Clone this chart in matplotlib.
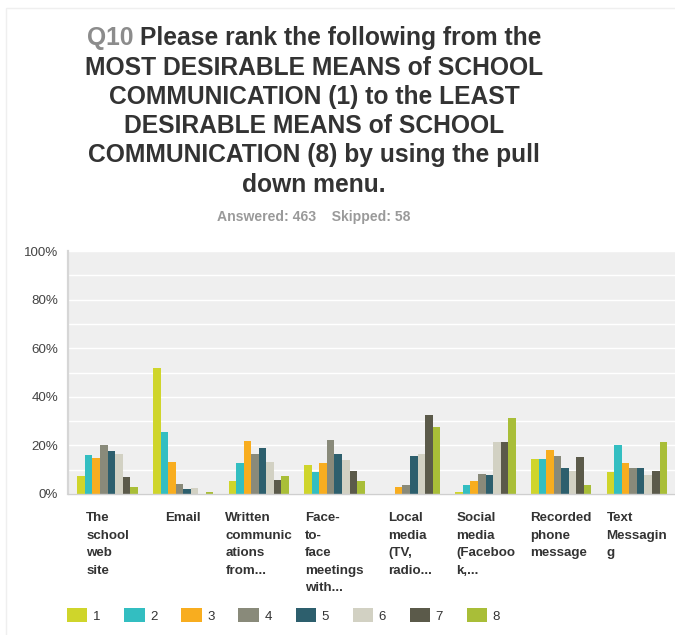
import matplotlib
matplotlib.use("Agg")
import matplotlib.pyplot as plt
import numpy as np
from matplotlib.patches import Rectangle

plt.rcParams["font.family"] = ["Liberation Sans", "DejaVu Sans"]

# Survey categories (x axis) and the share of respondents giving each rank
categories = [
    "The\nschool\nweb\nsite",
    "Email",
    "Written\ncommunic\nations\nfrom...",
    "Face-\nto-\nface\nmeetings\nwith...",
    "Local\nmedia\n(TV,\nradio...",
    "Social\nmedia\n(Faceboo\nk,...",
    "Recorded\nphone\nmessage",
    "Text\nMessagin\ng",
]
rank_labels = ["1", "2", "3", "4", "5", "6", "7", "8"]

school_web_site = [7.4, 16.0, 14.9, 20.1, 17.6, 16.5, 6.9, 3.0]
email = [51.9, 25.6, 13.2, 4.1, 1.9, 2.5, 0.0, 0.8]
written_comms = [5.2, 12.7, 21.7, 16.5, 19.1, 13.2, 5.8, 7.3]
face_to_face = [12.1, 8.9, 12.7, 22.3, 16.4, 13.8, 9.5, 5.2]
local_media = [0.0, 0.0, 3.0, 3.6, 15.8, 16.4, 32.5, 27.6]
social_media = [0.8, 3.6, 5.2, 8.4, 7.8, 21.3, 21.3, 31.4]
recorded_phone = [14.3, 14.3, 18.0, 15.8, 10.6, 9.5, 15.4, 3.6]
text_messaging = [8.9, 20.1, 12.7, 10.6, 10.6, 7.8, 9.5, 21.3]

y_ticks = [0, 20, 40, 60, 80, 100]
y_tick_labels = ["0%", "20%", "40%", "60%", "80%", "100%"]

rank_colors = ["#cfd52b", "#33bec1", "#f8ad1f", "#898a7a",
               "#2d5f6d", "#d2d1c3", "#5b5a4a", "#a9be38"]

values = np.array([school_web_site, email, written_comms, face_to_face,
                   local_media, social_media, recorded_phone, text_messaging])

W, H = 675, 635
fig = plt.figure(figsize=(W / 100, H / 100), dpi=100)
fig.patch.set_facecolor("white")

# faint outer frame
fig.patches.append(Rectangle((6 / W, -0.05), 1.2, 1 - 8 / H + 0.05,
                             transform=fig.transFigure, fill=False,
                             edgecolor="#efefef", linewidth=1.0))

# plot area
left, right, top, bottom = 68, 675, 251, 494
ax = fig.add_axes([left / W, 1 - bottom / H, (right - left) / W, (bottom - top) / H])
ax.set_facecolor("#efefef")

x = np.arange(len(categories))
bar_w = 0.1
for j, (lab, col) in enumerate(zip(rank_labels, rank_colors)):
    ax.bar(x + (j - 3.5) * bar_w, values[:, j], width=bar_w, color=col,
           label=lab, zorder=3, linewidth=0)

ax.set_xlim(-0.524, 7.505)
ax.set_ylim(0, 100)
ax.set_yticks(y_ticks)
ax.set_yticklabels(y_tick_labels)
ax.set_yticks(np.arange(10, 100, 20), minor=True)
ax.grid(axis="y", which="both", color="white", linewidth=1.0, zorder=1)
ax.tick_params(axis="y", which="both", length=0, pad=7, labelsize=9.6,
               labelcolor="#444444")
ax.set_xticks([])
for s in ["top", "right"]:
    ax.spines[s].set_visible(False)
ax.spines["left"].set_color("#d6d6d6")
ax.spines["left"].set_linewidth(1.6)
ax.spines["bottom"].set_color("#cfcfcf")
ax.spines["bottom"].set_linewidth(1.0)
ax.spines["bottom"].set_zorder(4)

# category labels under each group
for xi, cat in zip(x, categories):
    ax.annotate(cat, xy=(xi, 0), xycoords=("data", "axes fraction"),
                xytext=(0, -13), textcoords="offset points",
                ha="center", va="top", multialignment="left",
                fontsize=9.6, fontweight="bold", color="#333333",
                linespacing=1.62)

# legend
handles, labels = ax.get_legend_handles_labels()
leg = fig.legend(handles, labels, loc="center left", ncol=8,
                 bbox_to_anchor=(67 / W, 1 - 615.5 / H), frameon=False,
                 fontsize=9.5, handlelength=1.55, handleheight=1.15,
                 handletextpad=0.4, columnspacing=1.82, borderpad=0,
                 borderaxespad=0)
for t in leg.get_texts():
    t.set_color("#333333")

# title, one text per line; the question number is grey
title_lines = [
    "Q10 Please rank the following from the",
    "MOST DESIRABLE MEANS of SCHOOL",
    "COMMUNICATION (1) to the LEAST",
    "DESIRABLE MEANS of SCHOOL",
    "COMMUNICATION (8) by using the pull",
    "down menu.",
]
cx = 314 / W
title_kw = dict(fontsize=17.7, fontweight="bold", va="center")
renderer = fig.canvas.get_renderer()
for k, line in enumerate(title_lines):
    y = 1 - (38.5 + 29.2 * k) / H
    if k == 0:
        probe = fig.text(cx, y, line, ha="center", **title_kw)
        bb = probe.get_window_extent(renderer)
        probe.remove()
        x0 = bb.x0 / W
        x1 = bb.x1 / W
        fig.text(x0, y, "Q10", ha="left", color="#8c8c8c", **title_kw)
        fig.text(x1, y, line[4:], ha="right", color="#333333", **title_kw)
    else:
        fig.text(cx, y, line, ha="center", color="#333333", **title_kw)

fig.text(cx, 1 - 217 / H, "Answered: 463    Skipped: 58", ha="center",
         va="center", fontsize=10.1, fontweight="bold", color="#9a9a9a")

fig.savefig("out.png", dpi=100, facecolor="white")
